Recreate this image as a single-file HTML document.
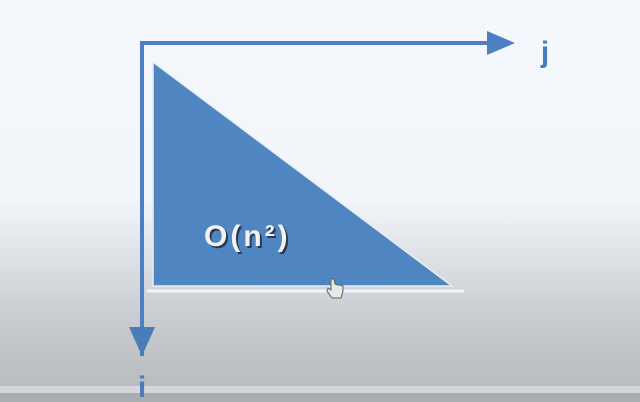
<!DOCTYPE html>
<html><head><meta charset="utf-8"><style>
html,body{margin:0;padding:0;width:640px;height:402px;overflow:hidden}
body{background:linear-gradient(to bottom,#f4f8fc 0px,#f2f6fa 200px,#e0e3e7 250px,#c8cbcf 320px,#b9bcc0 385px);position:relative;font-family:"Liberation Sans",sans-serif}
</style></head><body>
<svg width="640" height="402" style="position:absolute;left:0;top:0">
  <rect x="0" y="386" width="640" height="7" fill="#d4d6d9"/>
  <rect x="0" y="393" width="640" height="9" fill="#a9acb0"/>
  <line x1="147" y1="291" x2="464" y2="291" stroke="#f4f5f6" stroke-width="3"/>
  <polygon points="153,62 153,286 452,286" fill="#4f86c2" stroke="#e8eef6" stroke-width="1.5"/>
  <polyline points="142,356 142,43 490,43" fill="none" stroke="#4c80c0" stroke-width="4"/>
  <polygon points="487,31 515,43 487,55" fill="#4c80c0"/>
  <polygon points="129,327 155,327 142,356" fill="#4a7cb8"/>
  <text x="545" y="62" font-size="30" font-weight="bold" fill="#4a7cb8" text-anchor="middle">j</text>
  <text x="142" y="397" font-size="30" font-weight="bold" fill="#4a7cb8" text-anchor="middle">i</text>
  <text x="204" y="246" font-size="30" font-weight="bold" fill="#2a3a50" letter-spacing="3" transform="translate(2,2)">O(n²)</text>
  <text x="204" y="246" font-size="30" font-weight="bold" fill="#f2f2f2" letter-spacing="3">O(n²)</text>
  <g transform="translate(327,277)">
    <path d="M4,2 L4,13 L1,11 L0,14 L5,21 L14,21 L16,14 L16,9 L13,8 L11,8 L8,7 L7,2 Z" fill="#e8eae8" stroke="#556655" stroke-width="1"/>
  </g>
</svg>
</body></html>
